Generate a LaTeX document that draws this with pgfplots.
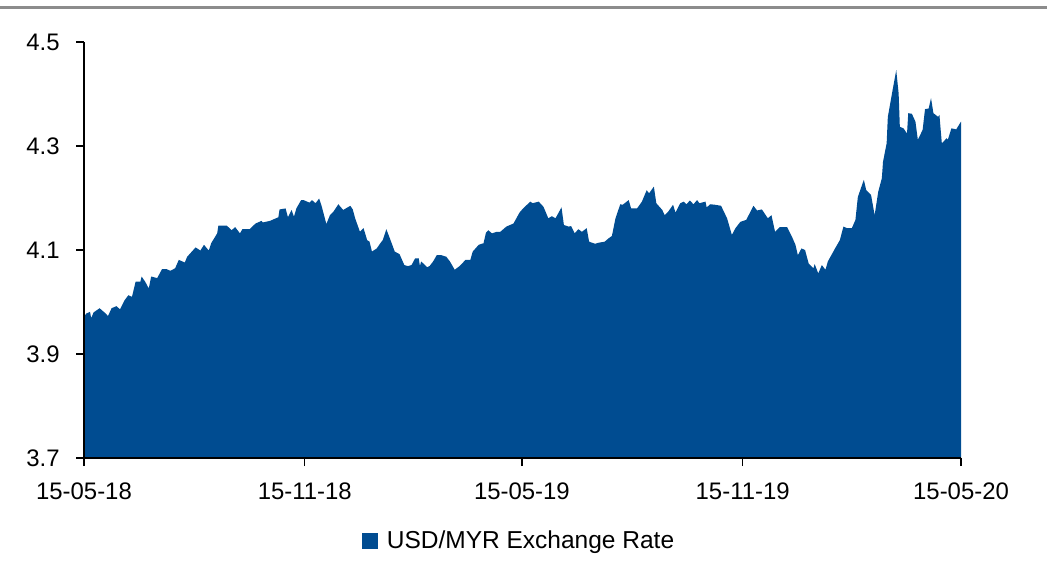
\documentclass[border=0pt]{standalone}
\usepackage{pgfplots}
\pgfplotsset{compat=1.18}
\usepackage{fontspec}
\setmainfont{Liberation Sans}
\definecolor{myblue}{RGB}{0,76,145}
\pgfplotstableread{
day rate
0 3.972
2 3.978
5 3.981
6 3.969
8 3.980
13 3.988
18 3.978
20 3.973
23 3.988
27 3.992
30 3.986
34 4.004
37 4.013
40 4.010
43 4.039
47 4.039
48 4.049
51 4.039
54 4.026
56 4.049
61 4.046
65 4.063
69 4.063
72 4.060
76 4.065
79 4.081
84 4.076
86 4.087
93 4.105
97 4.099
100 4.110
104 4.099
106 4.113
111 4.132
112 4.147
119 4.147
123 4.138
126 4.144
130 4.132
132 4.140
138 4.140
143 4.151
148 4.156
149 4.153
155 4.156
162 4.163
163 4.178
168 4.180
170 4.163
173 4.177
175 4.164
177 4.180
181 4.196
183 4.196
188 4.191
190 4.196
193 4.190
196 4.199
198 4.185
202 4.150
205 4.167
208 4.174
212 4.188
216 4.177
222 4.185
224 4.178
226 4.161
230 4.135
233 4.142
236 4.119
238 4.116
240 4.097
244 4.103
247 4.113
249 4.119
252 4.140
255 4.122
259 4.097
263 4.092
267 4.071
270 4.069
273 4.071
276 4.084
279 4.084
280 4.069
281 4.078
286 4.067
288 4.069
291 4.078
294 4.090
298 4.090
302 4.087
305 4.078
309 4.062
313 4.069
318 4.081
322 4.081
324 4.097
329 4.110
333 4.113
335 4.133
337 4.138
340 4.132
344 4.135
347 4.135
352 4.145
358 4.151
363 4.172
366 4.180
372 4.193
374 4.190
379 4.193
383 4.183
387 4.161
390 4.165
393 4.161
398 4.182
400 4.148
404 4.145
406 4.146
409 4.132
412 4.140
415 4.135
419 4.142
421 4.116
426 4.112
429 4.114
434 4.116
437 4.122
440 4.127
443 4.161
447 4.188
449 4.187
454 4.196
456 4.180
461 4.180
465 4.193
469 4.215
471 4.209
475 4.222
477 4.190
482 4.177
484 4.167
487 4.174
491 4.187
493 4.172
497 4.190
500 4.193
502 4.188
505 4.195
508 4.188
511 4.196
513 4.190
518 4.193
519 4.182
522 4.188
526 4.187
531 4.185
536 4.161
540 4.129
543 4.142
547 4.154
552 4.158
554 4.167
558 4.185
561 4.176
565 4.178
570 4.161
573 4.167
576 4.135
580 4.144
586 4.144
590 4.126
593 4.110
595 4.090
598 4.103
601 4.100
604 4.074
608 4.065
609 4.073
612 4.055
615 4.071
618 4.062
620 4.078
626 4.103
630 4.119
633 4.145
636 4.142
640 4.142
643 4.158
645 4.202
650 4.235
652 4.215
656 4.206
659 4.167
662 4.212
665 4.238
666 4.270
669 4.305
670 4.356
674 4.408
677 4.446
679 4.401
680 4.337
683 4.334
686 4.324
687 4.363
690 4.362
693 4.347
695 4.312
699 4.331
701 4.371
704 4.372
706 4.392
708 4.363
712 4.356
713 4.360
715 4.305
719 4.315
720 4.312
723 4.334
727 4.332
731 4.347
}\ratedata
\begin{document}
\fontsize{12}{14.4}\selectfont
\begin{tikzpicture}[x=1bp,y=1bp]
\useasboundingbox (0,0) rectangle (523.5,290.5);
\draw[line width=1.5bp, color=black!45] (0,286.5) -- (523.5,286.5);
\begin{axis}[
  at={(42bp,61.5bp)}, anchor=south west,
  scale only axis, width=438.5bp, height=208bp,
  xmin=0, xmax=731, ymin=3.7, ymax=4.5,
  axis x line*=bottom, axis y line*=left,
  axis line style={-, black, line width=0.6bp},
  xtick={0,184,365,549,731},
  xticklabels={15-05-18,15-11-18,15-05-19,15-11-19,15-05-20},
  ytick={3.7,3.9,4.1,4.3,4.5},
  yticklabel style={/pgf/number format/fixed,/pgf/number format/precision=1,/pgf/number format/fixed zerofill, xshift=-4bp},
  xticklabel style={yshift=-4bp},
  /pgf/number format/assume math mode=true,
  tick align=outside, major tick length=4bp,
  tick style={black, line width=0.6bp},
  ticklabel style={font=\fontsize{12}{14.4}\selectfont},
  legend style={at={(0.5,-0.2)}, anchor=center, draw=none, fill=none,
    font=\fontsize{12.3}{14.8}\selectfont,
    nodes={inner xsep=4.5bp}},
  legend image code/.code={\fill[myblue] (-1bp,-4bp) rectangle (7bp,4bp);},
  axis on top,
]
\addplot[fill=myblue, draw=none] table[x=day, y=rate] {\ratedata} \closedcycle;
\addlegendentry{USD/MYR Exchange Rate}
\end{axis}
\end{tikzpicture}
\end{document}
